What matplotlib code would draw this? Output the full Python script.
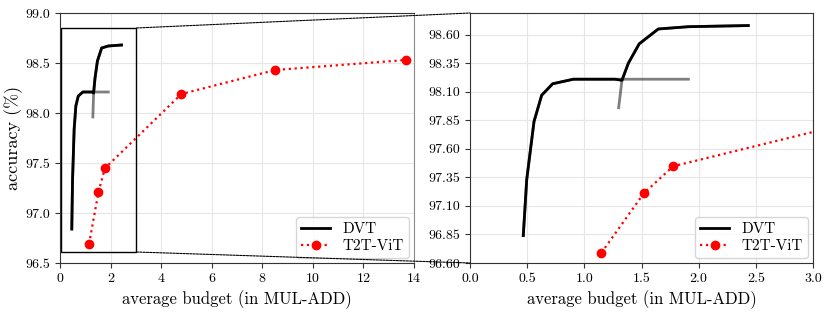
import numpy as np
import matplotlib
matplotlib.use('Agg')
from matplotlib import pyplot as plt
from matplotlib.patches import Rectangle, ConnectionPatch

plt.rcParams['font.family'] = 'serif'
plt.rcParams['font.serif'] = ['cmr10']
plt.rcParams['axes.unicode_minus'] = False
plt.rcParams['mathtext.fontset'] = 'cm'

# DVT: two exit levels (budget in MUL-ADD, accuracy %)
lvl1_x = [0.466, 0.496, 0.560, 0.627, 0.723, 0.904, 1.267, 1.91]
lvl1_y = [96.84, 97.33, 97.84, 98.07, 98.17, 98.21, 98.21, 98.21]
lvl2_x = [1.30, 1.329, 1.385, 1.48, 1.647, 1.91, 2.434]
lvl2_y = [97.96, 98.20, 98.35, 98.52, 98.65, 98.67, 98.68]

# T2T-ViT models
t2t_x = [1.15, 1.52, 1.776, 4.80, 8.51, 13.68]
t2t_y = [96.69, 97.21, 97.447, 98.19, 98.43, 98.53]

# black envelope: level 1 up to where level 2 takes over
env_x = lvl1_x[:-1] + lvl2_x[1:]
env_y = lvl1_y[:-1] + lvl2_y[1:]

fig = plt.figure(figsize=(8.3, 3.13), dpi=100)
ax1 = fig.add_axes([60/830, 50/313, 354/830, 250/313])
ax2 = fig.add_axes([470/830, 50/313, 343/830, 250/313])

for ax in (ax1, ax2):
    ax.plot(lvl1_x, lvl1_y, color='k', lw=2, alpha=0.5)
    ax.plot(lvl2_x, lvl2_y, color='k', lw=2, alpha=0.5)
    ax.plot(env_x, env_y, color='k', lw=2, label='DVT')
    ax.plot(t2t_x, t2t_y, color='red', ls=':', lw=1.6, marker='o', ms=6, label='T2T-ViT')
    ax.grid(True, color='0.9', lw=0.8)
    ax.set_axisbelow(True)
    ax.set_xlabel('average budget (in MUL-ADD)', fontsize=12)
    ax.tick_params(labelsize=10, color='0.2')
    for s in ax.spines.values():
        s.set_color('0.2')
    ax.legend(loc='lower right', fontsize=11, handlelength=1.9,
              borderaxespad=0.3, labelspacing=0.2, borderpad=0.35)

ax1.set_xlim(0, 14)
ax1.set_ylim(96.5, 99.0)
ax1.set_xticks(np.arange(0, 15, 2))
ax1.set_yticks(np.arange(96.5, 99.01, 0.5))
ax1.yaxis.set_major_formatter('{x:.1f}')
ax1.set_ylabel('accuracy (%)', fontsize=13, labelpad=2)
ax1.spines['right'].set_color('0.55')

ax2.set_xlim(0, 3.0)
ax2.set_ylim(96.6, 98.79)
ax2.set_xticks(np.arange(0, 3.01, 0.5))
ax2.set_yticks(np.arange(96.6, 98.61, 0.25))
ax2.xaxis.set_major_formatter('{x:.1f}')
ax2.yaxis.set_major_formatter('{x:.2f}')

# zoom box and connectors
ax1.add_patch(Rectangle((0.05, 96.61), 2.97, 2.24, fill=False, ec='k', lw=1))
for yb, ya in [(98.85, 1), (96.61, 0)]:
    con = ConnectionPatch(xyA=(3.02, yb), coordsA=ax1.transData,
                          xyB=(0, ya), coordsB=ax2.transAxes,
                          ls=(0, (2, 1)), lw=0.8, color='k')
    fig.add_artist(con)

plt.savefig('out.png', dpi=100)
